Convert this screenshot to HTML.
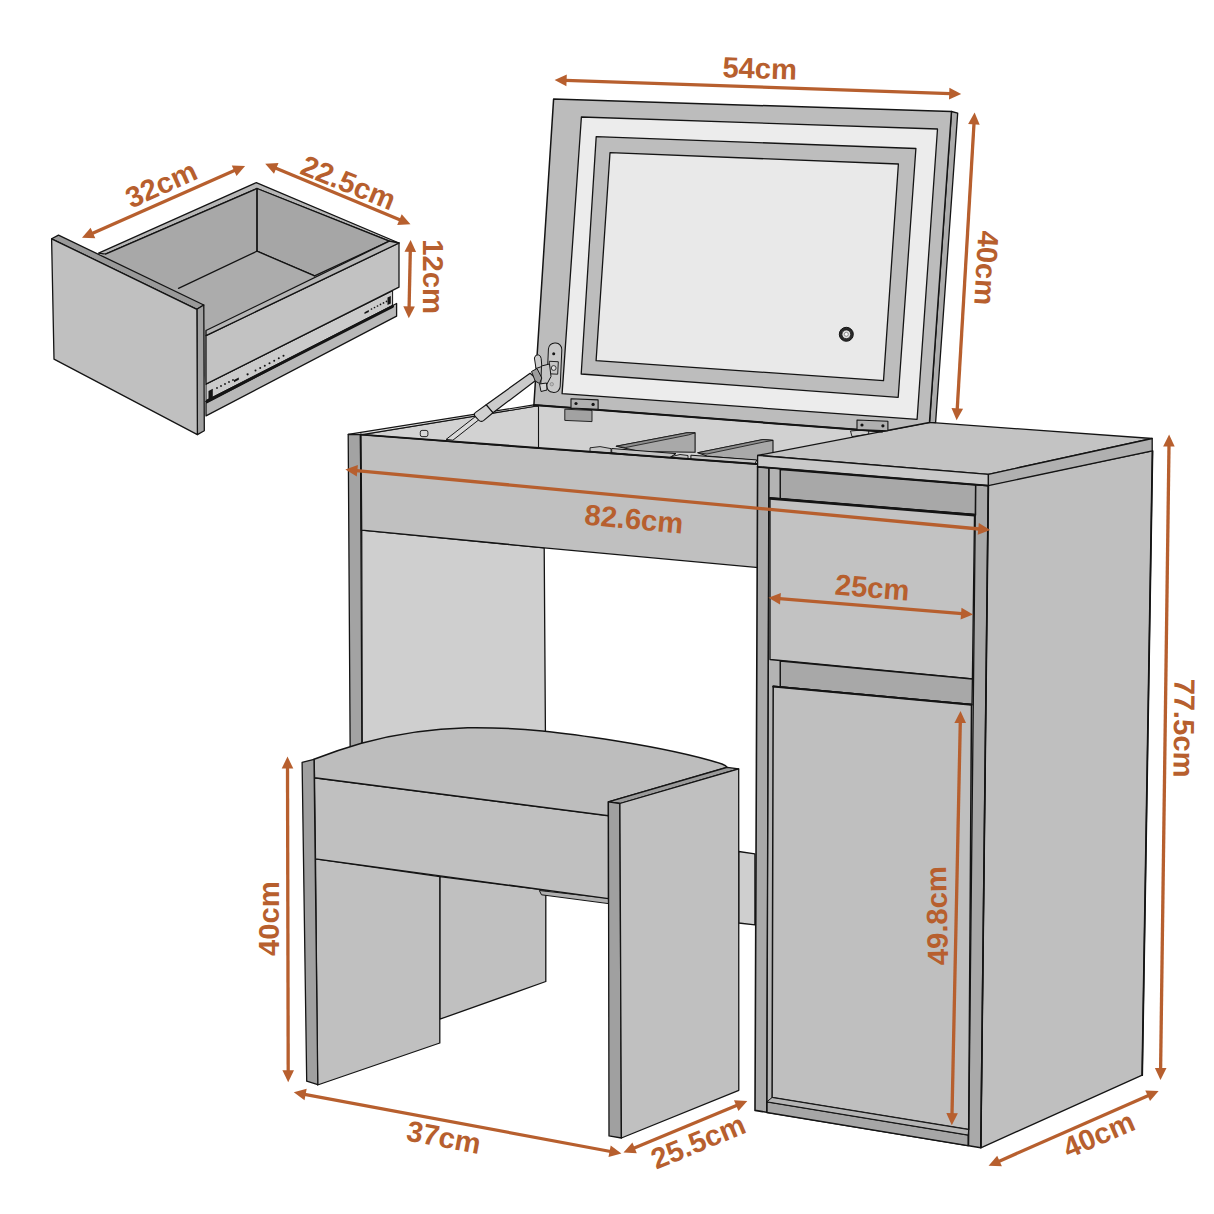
<!DOCTYPE html>
<html lang="en">
<head>
<meta charset="utf-8">
<title>Dressing table dimensions</title>
<style>
html,body{margin:0;padding:0;background:#fff;}
body{width:1214px;height:1214px;overflow:hidden;}
svg{display:block;}
text{font-family:"Liberation Sans",Arial,Helvetica,sans-serif;font-weight:700;}
</style>
</head>
<body>
<svg width="1214" height="1214" viewBox="0 0 1214 1214">
<rect width="1214" height="1214" fill="#ffffff"/>
<polygon points="98.6,253.2 256.3,182.6 399.0,243.0 399.0,287.2 206.0,386.0 190.0,300.0" fill="#a8a8a8" stroke="none" stroke-width="0" stroke-linejoin="round" />
<polygon points="98.6,253.2 256.3,182.6 399.0,243.0 389.3,241.2 257.0,188.5 105.5,254.2" fill="#b6b6b6" stroke="#141414" stroke-width="1.3" stroke-linejoin="round" />
<polygon points="100.0,256.5 257.0,188.5 257.0,251.2 177.0,289.0" fill="#a8a8a8" stroke="none" stroke-width="0" stroke-linejoin="round" />
<polygon points="257.0,188.5 389.3,241.2 314.6,275.9 257.0,251.2" fill="#a6a6a6" stroke="#141414" stroke-width="1.3" stroke-linejoin="round" />
<polygon points="175.0,289.0 257.0,251.2 314.6,275.9 206.0,330.5 200.0,305.0" fill="#acacac" stroke="none" stroke-width="0" stroke-linejoin="round" />
<line x1="257.0" y1="251.2" x2="314.6" y2="275.9" stroke="#141414" stroke-width="1.3" stroke-linecap="round" />
<line x1="105.5" y1="254.2" x2="257.0" y2="188.5" stroke="#141414" stroke-width="1.3" stroke-linecap="round" />
<line x1="257.0" y1="188.5" x2="257.0" y2="251.2" stroke="#141414" stroke-width="1.3" stroke-linecap="round" />
<line x1="257.0" y1="251.2" x2="178.5" y2="288.3" stroke="#141414" stroke-width="1.3" stroke-linecap="round" />
<polygon points="206.0,403.2 396.6,303.5 396.6,316.2 206.0,415.9" fill="#b8b8b8" stroke="#141414" stroke-width="1.3" stroke-linejoin="round" />
<polygon points="206.0,384.2 392.6,290.8 392.6,305.3 206.0,400.5" fill="#cbcbcb" stroke="#141414" stroke-width="1" stroke-linejoin="round" />
<line x1="206.5" y1="401.6" x2="392.6" y2="306.4" stroke="#141414" stroke-width="2.8" stroke-linecap="round" />
<polygon points="206.0,335.6 399.0,243.0 399.0,287.2 206.0,384.2" fill="#c2c2c2" stroke="#141414" stroke-width="1.3" stroke-linejoin="round" />
<polygon points="206.0,330.5 389.3,241.2 399.0,243.0 206.0,335.6" fill="#b6b6b6" stroke="#141414" stroke-width="1.3" stroke-linejoin="round" />
<circle cx="217.0" cy="388.0" r="0.9" fill="#141414" stroke="none" stroke-width="0"/>
<circle cx="221.0" cy="386.0" r="0.9" fill="#141414" stroke="none" stroke-width="0"/>
<circle cx="225.0" cy="384.0" r="0.9" fill="#141414" stroke="none" stroke-width="0"/>
<circle cx="229.0" cy="382.0" r="0.9" fill="#141414" stroke="none" stroke-width="0"/>
<circle cx="233.0" cy="380.0" r="0.9" fill="#141414" stroke="none" stroke-width="0"/>
<polygon points="234.0,380.0 238.8,377.6 238.8,379.8 234.0,382.2" fill="#141414" stroke="none" stroke-width="0" stroke-linejoin="round" />
<circle cx="247.6" cy="374.3" r="1.1" fill="#141414" stroke="none" stroke-width="0"/>
<circle cx="255.5" cy="370.6" r="1.0" fill="#141414" stroke="none" stroke-width="0"/>
<circle cx="260.2" cy="368.1" r="1.0" fill="#141414" stroke="none" stroke-width="0"/>
<circle cx="264.8" cy="365.7" r="1.0" fill="#141414" stroke="none" stroke-width="0"/>
<circle cx="269.5" cy="363.2" r="1.0" fill="#141414" stroke="none" stroke-width="0"/>
<circle cx="274.2" cy="360.7" r="1.0" fill="#141414" stroke="none" stroke-width="0"/>
<circle cx="278.8" cy="358.3" r="1.0" fill="#141414" stroke="none" stroke-width="0"/>
<circle cx="283.5" cy="355.8" r="1.0" fill="#141414" stroke="none" stroke-width="0"/>
<polygon points="364.5,312.2 368.8,310.0 368.8,311.9 364.5,314.1" fill="#141414" stroke="none" stroke-width="0" stroke-linejoin="round" />
<circle cx="371.5" cy="309.0" r="0.85" fill="#141414" stroke="none" stroke-width="0"/>
<circle cx="374.5" cy="307.5" r="0.85" fill="#141414" stroke="none" stroke-width="0"/>
<circle cx="377.5" cy="306.0" r="0.85" fill="#141414" stroke="none" stroke-width="0"/>
<circle cx="380.5" cy="304.4" r="0.85" fill="#141414" stroke="none" stroke-width="0"/>
<circle cx="383.5" cy="302.9" r="0.85" fill="#141414" stroke="none" stroke-width="0"/>
<circle cx="386.5" cy="301.4" r="0.85" fill="#141414" stroke="none" stroke-width="0"/>
<polygon points="387.5,297.6 390.8,296.0 390.8,303.4 387.5,305.0" fill="#141414" stroke="none" stroke-width="0" stroke-linejoin="round" />
<polygon points="208.5,391.0 212.8,388.8 212.8,397.4 208.5,399.6" fill="#141414" stroke="none" stroke-width="0" stroke-linejoin="round" />
<polygon points="51.6,238.8 58.5,235.1 203.8,305.0 196.9,309.3" fill="#9a9a9a" stroke="#141414" stroke-width="1.3" stroke-linejoin="round" />
<polygon points="196.9,309.3 203.8,305.0 204.3,430.8 197.4,434.6" fill="#a0a0a0" stroke="#141414" stroke-width="1.3" stroke-linejoin="round" />
<polygon points="51.6,238.8 196.9,309.3 197.4,434.6 54.0,359.2" fill="#c0c0c0" stroke="#141414" stroke-width="1.3" stroke-linejoin="round" />
<polygon points="533.9,404.9 929.5,422.4 929.5,470.0 539.0,470.0 539.0,406.0" fill="#d1d1d1" stroke="none" stroke-width="0" stroke-linejoin="round" />
<polygon points="352.0,436.2 536.3,406.0 538.5,406.5 538.5,448.5 361.0,436.0" fill="#d2d2d2" stroke="#141414" stroke-width="1.1" stroke-linejoin="round" />
<polygon points="348.2,434.3 533.9,404.9 537.0,406.0 353.0,436.2" fill="#e2e2e2" stroke="#141414" stroke-width="1.2" stroke-linejoin="round" />
<rect x="420.3" y="430.4" width="7.6" height="6.2" rx="1.8" fill="#d8d8d8" stroke="#141414" stroke-width="0.9"/>
<polygon points="590.0,447.8 600.0,446.6 611.0,448.6 611.0,453.0 590.0,451.5" fill="#c6c6c6" stroke="#141414" stroke-width="0.9" stroke-linejoin="round" />
<polygon points="616.2,446.2 686.9,432.8 695.1,432.8 695.1,452.2 640.0,451.5" fill="#a9a9a9" stroke="#141414" stroke-width="1.1" stroke-linejoin="round" />
<polygon points="616.2,446.2 686.9,432.8 695.1,432.8 688.7,434.9 625.3,447.6" fill="#8e8e8e" stroke="#141414" stroke-width="0.8" stroke-linejoin="round" />
<polygon points="611.7,448.5 676.0,453.6 668.8,458.1 611.7,453.0" fill="#c4c4c4" stroke="#141414" stroke-width="1.0" stroke-linejoin="round" />
<line x1="611.7" y1="453.4" x2="668.8" y2="458.5" stroke="#141414" stroke-width="1.8" stroke-linecap="round" />
<polygon points="672.0,456.5 680.0,454.5 688.0,455.5 688.0,459.5 672.0,458.5" fill="#c6c6c6" stroke="#141414" stroke-width="0.9" stroke-linejoin="round" />
<polygon points="697.8,452.7 763.0,439.5 773.0,440.4 773.0,453.0 757.0,460.5 706.9,456.0" fill="#a9a9a9" stroke="#141414" stroke-width="1.1" stroke-linejoin="round" />
<polygon points="697.8,452.7 763.0,439.5 773.0,440.4 764.8,441.8 706.9,454.0" fill="#8e8e8e" stroke="#141414" stroke-width="0.8" stroke-linejoin="round" />
<polygon points="690.9,455.2 756.7,459.9 754.9,464.3 690.9,459.4" fill="#c4c4c4" stroke="#141414" stroke-width="1.0" stroke-linejoin="round" />
<line x1="690.9" y1="459.8" x2="754.9" y2="464.7" stroke="#141414" stroke-width="1.8" stroke-linecap="round" />
<polygon points="564.8,409.2 592.0,410.4 592.0,421.6 564.8,420.4" fill="#a2a2a2" stroke="#141414" stroke-width="0.9" stroke-linejoin="round" />
<polygon points="850.5,431.0 868.7,429.5 868.7,434.2 852.0,436.6" fill="#cdcdcd" stroke="#141414" stroke-width="0.9" stroke-linejoin="round" />
<polygon points="348.2,434.3 360.5,434.7 362.5,885.0 351.0,885.0" fill="#a3a3a3" stroke="#141414" stroke-width="1.3" stroke-linejoin="round" />
<polygon points="361.7,530.2 544.2,547.8 545.5,745.0 362.3,760.0" fill="#cfcfcf" stroke="#141414" stroke-width="1.3" stroke-linejoin="round" />
<line x1="360.8" y1="434.7" x2="361.7" y2="530.2" stroke="#141414" stroke-width="2.2" stroke-linecap="round" />
<polygon points="738.7,851.5 754.9,853.8 754.9,924.8 738.7,923.0" fill="#cfcfcf" stroke="#141414" stroke-width="1.3" stroke-linejoin="round" />
<polygon points="361.0,434.7 539.0,448.4 756.5,464.0 768.9,466.0 768.9,568.5 544.2,547.8 361.7,530.2" fill="#c0c0c0" stroke="#141414" stroke-width="1.3" stroke-linejoin="round" />
<line x1="361.0" y1="434.7" x2="756.5" y2="464.0" stroke="#141414" stroke-width="1.8" stroke-linecap="round" />
<polygon points="988.1,484.8 1152.5,450.9 1142.2,1075.2 980.8,1147.8" fill="#bfbfbf" stroke="#141414" stroke-width="1.3" stroke-linejoin="round" />
<line x1="1152.5" y1="450.9" x2="1142.2" y2="1075.2" stroke="#141414" stroke-width="1.8" stroke-linecap="round" />
<polygon points="757.6,466.8 988.4,485.6 980.8,1147.8 755.0,1110.4" fill="#a9a9a9" stroke="#141414" stroke-width="1.6" stroke-linejoin="round" />
<polygon points="768.9,467.8 780.3,468.8 780.3,1100.0 766.8,1101.8" fill="#b4b4b4" stroke="#141414" stroke-width="1.0" stroke-linejoin="round" />
<polygon points="780.3,469.5 975.6,485.2 975.6,515.0 780.3,499.0" fill="#a8a8a8" stroke="#141414" stroke-width="1.3" stroke-linejoin="round" />
<polygon points="770.0,497.8 974.5,514.5 972.4,678.8 770.0,659.5" fill="#c2c2c2" stroke="#141414" stroke-width="1.3" stroke-linejoin="round" />
<line x1="770.0" y1="498.4" x2="974.5" y2="515.1" stroke="#141414" stroke-width="2.6" stroke-linecap="round" />
<polygon points="780.3,661.0 972.4,679.0 972.0,704.5 780.3,686.8" fill="#a8a8a8" stroke="#141414" stroke-width="1.3" stroke-linejoin="round" />
<polygon points="773.2,686.3 971.5,704.5 968.7,1129.6 772.1,1097.5" fill="#bfbfbf" stroke="#141414" stroke-width="1.5" stroke-linejoin="round" />
<line x1="773.2" y1="686.6" x2="971.5" y2="704.8" stroke="#141414" stroke-width="2.0" stroke-linecap="round" />
<polygon points="766.8,1101.8 968.1,1135.0 968.1,1145.6 766.8,1112.5" fill="#a6a6a6" stroke="#141414" stroke-width="1.3" stroke-linejoin="round" />
<polygon points="766.8,1101.8 772.1,1097.5 968.7,1129.6 968.1,1135.0" fill="#b4b4b4" stroke="#141414" stroke-width="1.0" stroke-linejoin="round" />
<line x1="768.9" y1="468.0" x2="766.8" y2="1112.0" stroke="#141414" stroke-width="1.4" stroke-linecap="round" />
<line x1="975.6" y1="486.0" x2="968.6" y2="1145.5" stroke="#141414" stroke-width="1.3" stroke-linecap="round" />
<line x1="988.2" y1="486.0" x2="980.8" y2="1147.5" stroke="#141414" stroke-width="1.5" stroke-linecap="round" />
<polygon points="757.6,455.4 929.5,422.4 1152.2,438.5 988.4,474.3" fill="#c3c3c3" stroke="#141414" stroke-width="1.3" stroke-linejoin="round" />
<polygon points="757.6,455.4 988.4,474.3 988.4,485.6 757.6,466.8" fill="#c9c9c9" stroke="#141414" stroke-width="1.3" stroke-linejoin="round" />
<polygon points="988.4,474.3 1152.2,438.5 1152.2,450.9 988.4,485.6" fill="#b0b0b0" stroke="#141414" stroke-width="1.3" stroke-linejoin="round" />
<line x1="757.6" y1="466.8" x2="988.4" y2="485.6" stroke="#141414" stroke-width="1.8" stroke-linecap="round" />
<polygon points="951.5,111.5 957.7,113.1 935.6,422.6 929.5,422.4" fill="#acacac" stroke="#141414" stroke-width="1.3" stroke-linejoin="round" />
<polygon points="553.6,99.1 951.5,111.5 929.5,422.4 882.0,431.6 533.9,404.9" fill="#bcbcbc" stroke="#141414" stroke-width="1.5" stroke-linejoin="round" />
<line x1="533.9" y1="404.9" x2="882.0" y2="431.6" stroke="#141414" stroke-width="2.0" stroke-linecap="round" />
<polygon points="581.4,117.0 937.5,129.0 917.1,419.3 562.1,393.6" fill="#ececec" stroke="#141414" stroke-width="1.3" stroke-linejoin="round" />
<polygon points="596.2,136.6 915.9,148.5 898.2,397.3 581.2,374.0" fill="#bdbdbd" stroke="#141414" stroke-width="1.3" stroke-linejoin="round" />
<polygon points="610.0,152.7 898.4,164.0 883.5,380.6 596.1,360.6" fill="#e9e9e9" stroke="#141414" stroke-width="1.3" stroke-linejoin="round" />
<circle cx="846.3" cy="334.3" r="7.0" fill="#2a2a2a" stroke="#141414" stroke-width="1"/>
<circle cx="846.3" cy="334.3" r="4.4" fill="#dedede" stroke="#141414" stroke-width="0.8"/>
<circle cx="846.3" cy="334.3" r="2.0" fill="#fafafa" stroke="#555" stroke-width="0.6"/>
<polygon points="571.0,398.7 598.1,399.9 598.1,409.2 571.0,408.0" fill="#b0b0b0" stroke="#141414" stroke-width="1.1" stroke-linejoin="round" />
<circle cx="576.0" cy="403.5" r="1.6" fill="#141414" stroke="none" stroke-width="0"/>
<circle cx="593.1" cy="404.4" r="1.6" fill="#141414" stroke="none" stroke-width="0"/>
<polygon points="857.0,420.0 887.9,421.2 887.9,430.8 857.0,429.6" fill="#b0b0b0" stroke="#141414" stroke-width="1.1" stroke-linejoin="round" />
<circle cx="862.0" cy="425.0" r="1.6" fill="#141414" stroke="none" stroke-width="0"/>
<circle cx="882.9" cy="425.8" r="1.6" fill="#141414" stroke="none" stroke-width="0"/>
<polygon points="446.1,439.4 452.9,440.2 480.7,418.3 477.0,415.3" fill="#d9d9d9" stroke="#141414" stroke-width="1.0" stroke-linejoin="round" />
<polygon points="486.2,404.8 493.0,412.8 536.9,379.4 530.1,373.2" fill="#cbcbcb" stroke="#141414" stroke-width="1.2" stroke-linejoin="round" />
<path d="M486.2,404.8 L493,412.8 L483.5,420.6 Q480.8,422.4 478.6,420 L474.8,416 Q473.4,413.8 475.6,412.4 Z" fill="#d0d0d0" stroke="#141414" stroke-width="1.1" stroke-linejoin="round" />
<rect x="547.6" y="343" width="13.4" height="49.4" rx="6.3" fill="#c8c8c8" stroke="#141414" stroke-width="1" transform="rotate(2.5 554 368)"/>
<circle cx="553.7" cy="353.8" r="1.5" fill="#141414" stroke="none" stroke-width="0"/>
<circle cx="551.8" cy="384.2" r="1.7" fill="#bdbdbd" stroke="#777" stroke-width="0.6"/>
<rect x="549" y="361.5" width="9" height="12.5" fill="#c4c4c4" stroke="#141414" stroke-width="0.9" transform="rotate(3 553.5 368)"/>
<circle cx="553.7" cy="368.0" r="2.4" fill="#e0e0e0" stroke="#141414" stroke-width="0.8"/>
<path d="M534.4,358 Q535.2,354.4 538.2,354.8 Q541,355.6 541.2,358.6 L541.8,366.5 L536,368.5 Z" fill="#cdcdcd" stroke="#141414" stroke-width="1.0" stroke-linejoin="round" />
<polygon points="541.5,366.0 549.5,364.0 551.0,376.5 547.0,384.0 540.8,384.5" fill="#c4c4c4" stroke="#141414" stroke-width="1.0" stroke-linejoin="round" />
<polygon points="531.5,371.5 537.0,368.5 541.8,378.0 539.5,383.5 535.2,381.0" fill="#9c9c9c" stroke="#141414" stroke-width="1.0" stroke-linejoin="round" />
<polygon points="539.5,384.0 546.5,383.0 547.0,390.0 541.0,391.5" fill="#d4d4d4" stroke="#141414" stroke-width="1.0" stroke-linejoin="round" />
<polygon points="439.8,876.7 545.8,890.0 545.8,981.5 439.8,1019.2" fill="#c0c0c0" stroke="#141414" stroke-width="1.3" stroke-linejoin="round" />
<polygon points="315.5,858.8 439.8,876.7 439.8,1043.0 317.6,1085.0" fill="#c0c0c0" stroke="#141414" stroke-width="1.3" stroke-linejoin="round" />
<polygon points="539.3,890.5 608.4,898.2 608.4,903.6 541.5,894.8" fill="#b0b0b0" stroke="#141414" stroke-width="1.0" stroke-linejoin="round" />
<polygon points="314.5,777.8 608.4,815.7 608.4,898.7 315.5,858.8" fill="#c0c0c0" stroke="#141414" stroke-width="1.3" stroke-linejoin="round" />
<path d="M314,759.3 C335,751 348,747 361.4,743.2 C395,734 430,728.5 467.7,727.7 C520,727 565,733 615.3,740.8 C660,748 700,757 722,764 Q726,765.5 727.2,767.3 L608.4,801.9 L608.4,815.7 L314.5,777.8 Z" fill="#bdbdbd" stroke="#141414" stroke-width="1.5" stroke-linejoin="round" />
<polygon points="302.1,762.3 314.0,759.3 317.8,1084.6 306.7,1081.2" fill="#a0a0a0" stroke="#141414" stroke-width="1.3" stroke-linejoin="round" />
<polygon points="608.4,801.9 619.9,803.5 738.7,768.9 727.2,767.3" fill="#9a9a9a" stroke="#141414" stroke-width="1.3" stroke-linejoin="round" />
<polygon points="608.4,801.9 619.9,803.5 621.4,1138.0 609.0,1135.9" fill="#a0a0a0" stroke="#141414" stroke-width="1.3" stroke-linejoin="round" />
<polygon points="619.9,803.5 738.7,768.9 738.8,1090.3 621.4,1138.0" fill="#c0c0c0" stroke="#141414" stroke-width="1.3" stroke-linejoin="round" />
<line x1="565.6" y1="80.4" x2="950.2" y2="93.6" stroke="#b75f2e" stroke-width="3.3"/>
<polygon points="554.6,80.0 566.4,86.2 566.8,74.6" fill="#b75f2e"/>
<polygon points="961.2,94.0 949.0,99.4 949.4,87.8" fill="#b75f2e"/>
<line x1="974.0" y1="123.5" x2="957.2" y2="409.3" stroke="#b75f2e" stroke-width="3.3"/>
<polygon points="974.6,112.5 968.1,124.1 979.7,124.8" fill="#b75f2e"/>
<polygon points="956.6,420.3 951.5,408.0 963.1,408.7" fill="#b75f2e"/>
<line x1="356.4" y1="470.6" x2="979.2" y2="529.0" stroke="#b75f2e" stroke-width="3.3"/>
<polygon points="345.4,469.6 356.8,476.5 357.9,464.9" fill="#b75f2e"/>
<polygon points="990.2,530.0 977.7,534.7 978.8,523.1" fill="#b75f2e"/>
<line x1="779.5" y1="598.7" x2="962.0" y2="613.7" stroke="#b75f2e" stroke-width="3.3"/>
<polygon points="768.5,597.8 780.0,604.6 780.9,593.0" fill="#b75f2e"/>
<polygon points="973.0,614.6 960.6,619.4 961.5,607.8" fill="#b75f2e"/>
<line x1="1169.0" y1="445.5" x2="1160.6" y2="1069.0" stroke="#b75f2e" stroke-width="3.3"/>
<polygon points="1169.1,434.5 1163.1,446.4 1174.7,446.6" fill="#b75f2e"/>
<polygon points="1160.5,1080.0 1154.9,1067.9 1166.5,1068.1" fill="#b75f2e"/>
<line x1="960.3" y1="722.0" x2="952.0" y2="1114.2" stroke="#b75f2e" stroke-width="3.3"/>
<polygon points="960.5,711.0 954.4,722.9 966.0,723.1" fill="#b75f2e"/>
<polygon points="951.8,1125.2 946.3,1113.1 957.9,1113.3" fill="#b75f2e"/>
<line x1="998.7" y1="1161.4" x2="1148.5" y2="1095.4" stroke="#b75f2e" stroke-width="3.3"/>
<polygon points="988.6,1165.8 1001.9,1166.3 997.2,1155.7" fill="#b75f2e"/>
<polygon points="1158.6,1091.0 1150.0,1101.1 1145.3,1090.5" fill="#b75f2e"/>
<line x1="287.5" y1="767.6" x2="288.2" y2="1071.3" stroke="#b75f2e" stroke-width="3.3"/>
<polygon points="287.5,756.6 281.7,768.6 293.3,768.6" fill="#b75f2e"/>
<polygon points="288.2,1082.3 282.4,1070.3 294.0,1070.3" fill="#b75f2e"/>
<line x1="304.6" y1="1094.3" x2="610.6" y2="1151.5" stroke="#b75f2e" stroke-width="3.3"/>
<polygon points="293.8,1092.3 304.5,1100.2 306.7,1088.8" fill="#b75f2e"/>
<polygon points="621.4,1153.5 608.5,1157.0 610.7,1145.6" fill="#b75f2e"/>
<line x1="633.7" y1="1148.2" x2="737.1" y2="1105.2" stroke="#b75f2e" stroke-width="3.3"/>
<polygon points="623.5,1152.4 636.8,1153.2 632.4,1142.4" fill="#b75f2e"/>
<polygon points="747.3,1101.0 738.4,1111.0 734.0,1100.2" fill="#b75f2e"/>
<line x1="92.1" y1="233.4" x2="235.0" y2="170.3" stroke="#b75f2e" stroke-width="3.3"/>
<polygon points="82.0,237.8 95.3,238.3 90.6,227.7" fill="#b75f2e"/>
<polygon points="245.1,165.9 236.5,176.0 231.8,165.4" fill="#b75f2e"/>
<line x1="275.4" y1="167.9" x2="400.3" y2="220.0" stroke="#b75f2e" stroke-width="3.3"/>
<polygon points="265.2,163.7 274.0,173.7 278.5,163.0" fill="#b75f2e"/>
<polygon points="410.5,224.2 397.2,224.9 401.7,214.2" fill="#b75f2e"/>
<line x1="410.3" y1="250.9" x2="409.1" y2="307.3" stroke="#b75f2e" stroke-width="3.3"/>
<polygon points="410.6,239.9 404.5,251.8 416.1,252.0" fill="#b75f2e"/>
<polygon points="408.8,318.3 403.3,306.2 414.9,306.4" fill="#b75f2e"/>
<text x="0" y="10.5" transform="translate(759.8,68.0) rotate(1.9)" text-anchor="middle" font-size="29.2" fill="#b75f2e">54cm</text>
<text x="0" y="10.5" transform="translate(986.8,268.0) rotate(93.3)" text-anchor="middle" font-size="29.2" fill="#b75f2e">40cm</text>
<text x="0" y="10.5" transform="translate(634.0,518.6) rotate(5.3)" text-anchor="middle" font-size="29.2" fill="#b75f2e">82.6cm</text>
<text x="0" y="10.5" transform="translate(872.3,587.1) rotate(4.7)" text-anchor="middle" font-size="29.2" fill="#b75f2e">25cm</text>
<text x="0" y="10.5" transform="translate(1184.5,728.0) rotate(90.7)" text-anchor="middle" font-size="29.2" fill="#b75f2e">77.5cm</text>
<text x="0" y="10.5" transform="translate(936.6,915.7) rotate(-91.2)" text-anchor="middle" font-size="29.2" fill="#b75f2e">49.8cm</text>
<text x="0" y="10.5" transform="translate(1098.6,1134.2) rotate(-23.5)" text-anchor="middle" font-size="29.2" fill="#b75f2e">40cm</text>
<text x="0" y="10.5" transform="translate(268.5,918.6) rotate(-90.0)" text-anchor="middle" font-size="29.2" fill="#b75f2e">40cm</text>
<text x="0" y="10.5" transform="translate(444.0,1136.8) rotate(10.7)" text-anchor="middle" font-size="29.2" fill="#b75f2e">37cm</text>
<text x="0" y="10.5" transform="translate(698.0,1141.2) rotate(-22.5)" text-anchor="middle" font-size="29.2" fill="#b75f2e">25.5cm</text>
<text x="0" y="10.5" transform="translate(161.0,183.9) rotate(-24.2)" text-anchor="middle" font-size="29.2" fill="#b75f2e">32cm</text>
<text x="0" y="10.5" transform="translate(348.6,182.2) rotate(22.3)" text-anchor="middle" font-size="29.2" fill="#b75f2e">22.5cm</text>
<text x="0" y="10.5" transform="translate(433.3,276.7) rotate(90.0)" text-anchor="middle" font-size="29.2" fill="#b75f2e">12cm</text>
</svg>
</body>
</html>
